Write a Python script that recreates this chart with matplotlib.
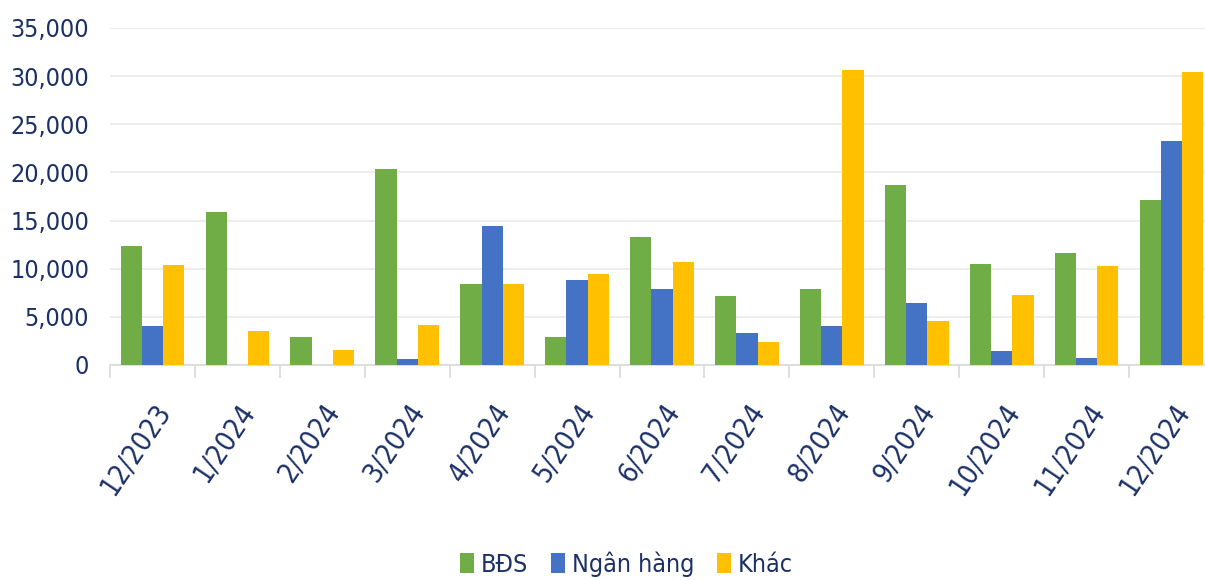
import numpy as np
import matplotlib.pyplot as plt
from matplotlib.ticker import FuncFormatter, FixedLocator

months = ['12/2023', '1/2024', '2/2024', '3/2024', '4/2024', '5/2024', '6/2024',
          '7/2024', '8/2024', '9/2024', '10/2024', '11/2024', '12/2024']
bds = [12400, 15900, 2900, 20400, 8400, 2900, 13300, 7200, 7900, 18700, 10500, 11650, 17150]
ngan_hang = [4000, 0, 0, 600, 14450, 8850, 7900, 3350, 4050, 6450, 1450, 750, 23300]
khac = [10400, 3550, 1550, 4150, 8400, 9450, 10700, 2400, 30600, 4600, 7300, 10300, 30400]

text_color = '#1B3066'
plt.rcParams['font.family'] = ['DejaVu Sans']
plt.rcParams['font.stretch'] = 'condensed'

fig = plt.figure(figsize=(12.05, 5.8), dpi=100)
ax = fig.add_axes([110 / 1205, 1 - 365 / 580, 1104 / 1205, 337 / 580])

x = np.arange(len(months))
w = 0.25
ax.bar(x - w, bds, w, color='#70AD47', label='BĐS', zorder=3)
ax.bar(x, ngan_hang, w, color='#4472C4', label='Ngân hàng', zorder=3)
ax.bar(x + w, khac, w, color='#FFC000', label='Khác', zorder=3)

ax.set_xlim(-0.5, len(months) - 0.5)
ax.set_ylim(0, 35000)
ax.set_yticks(np.arange(0, 35001, 5000))
ax.yaxis.set_major_formatter(FuncFormatter(lambda v, p: f'{int(v):,}'))
ax.grid(axis='y', color='#EDEDED', linewidth=1.5, zorder=0)

for s in ['left', 'right', 'top']:
    ax.spines[s].set_visible(False)
ax.spines['bottom'].set_color('#D9D9D9')
ax.spines['bottom'].set_linewidth(1.2)

ax.tick_params(axis='y', length=0, pad=15, labelsize=18, labelcolor=text_color)
ax.set_xticks(x)
ax.set_xticklabels(months, rotation=56, ha='right', va='top', rotation_mode='anchor',
                   fontsize=20, color=text_color)
ax.tick_params(axis='x', length=0, pad=24)
ax.xaxis.set_minor_locator(FixedLocator(np.arange(-0.5, len(months), 1)))
ax.tick_params(axis='x', which='minor', length=9, width=1.2, color='#D9D9D9')

leg = fig.legend(loc='center', bbox_to_anchor=(0.52, 0.027), ncol=3, frameon=False,
                 fontsize=18, handlelength=0.55, handleheight=0.85, handletextpad=0.3,
                 columnspacing=0.9)
for t in leg.get_texts():
    t.set_color(text_color)

fig.savefig('out.png', dpi=100)
